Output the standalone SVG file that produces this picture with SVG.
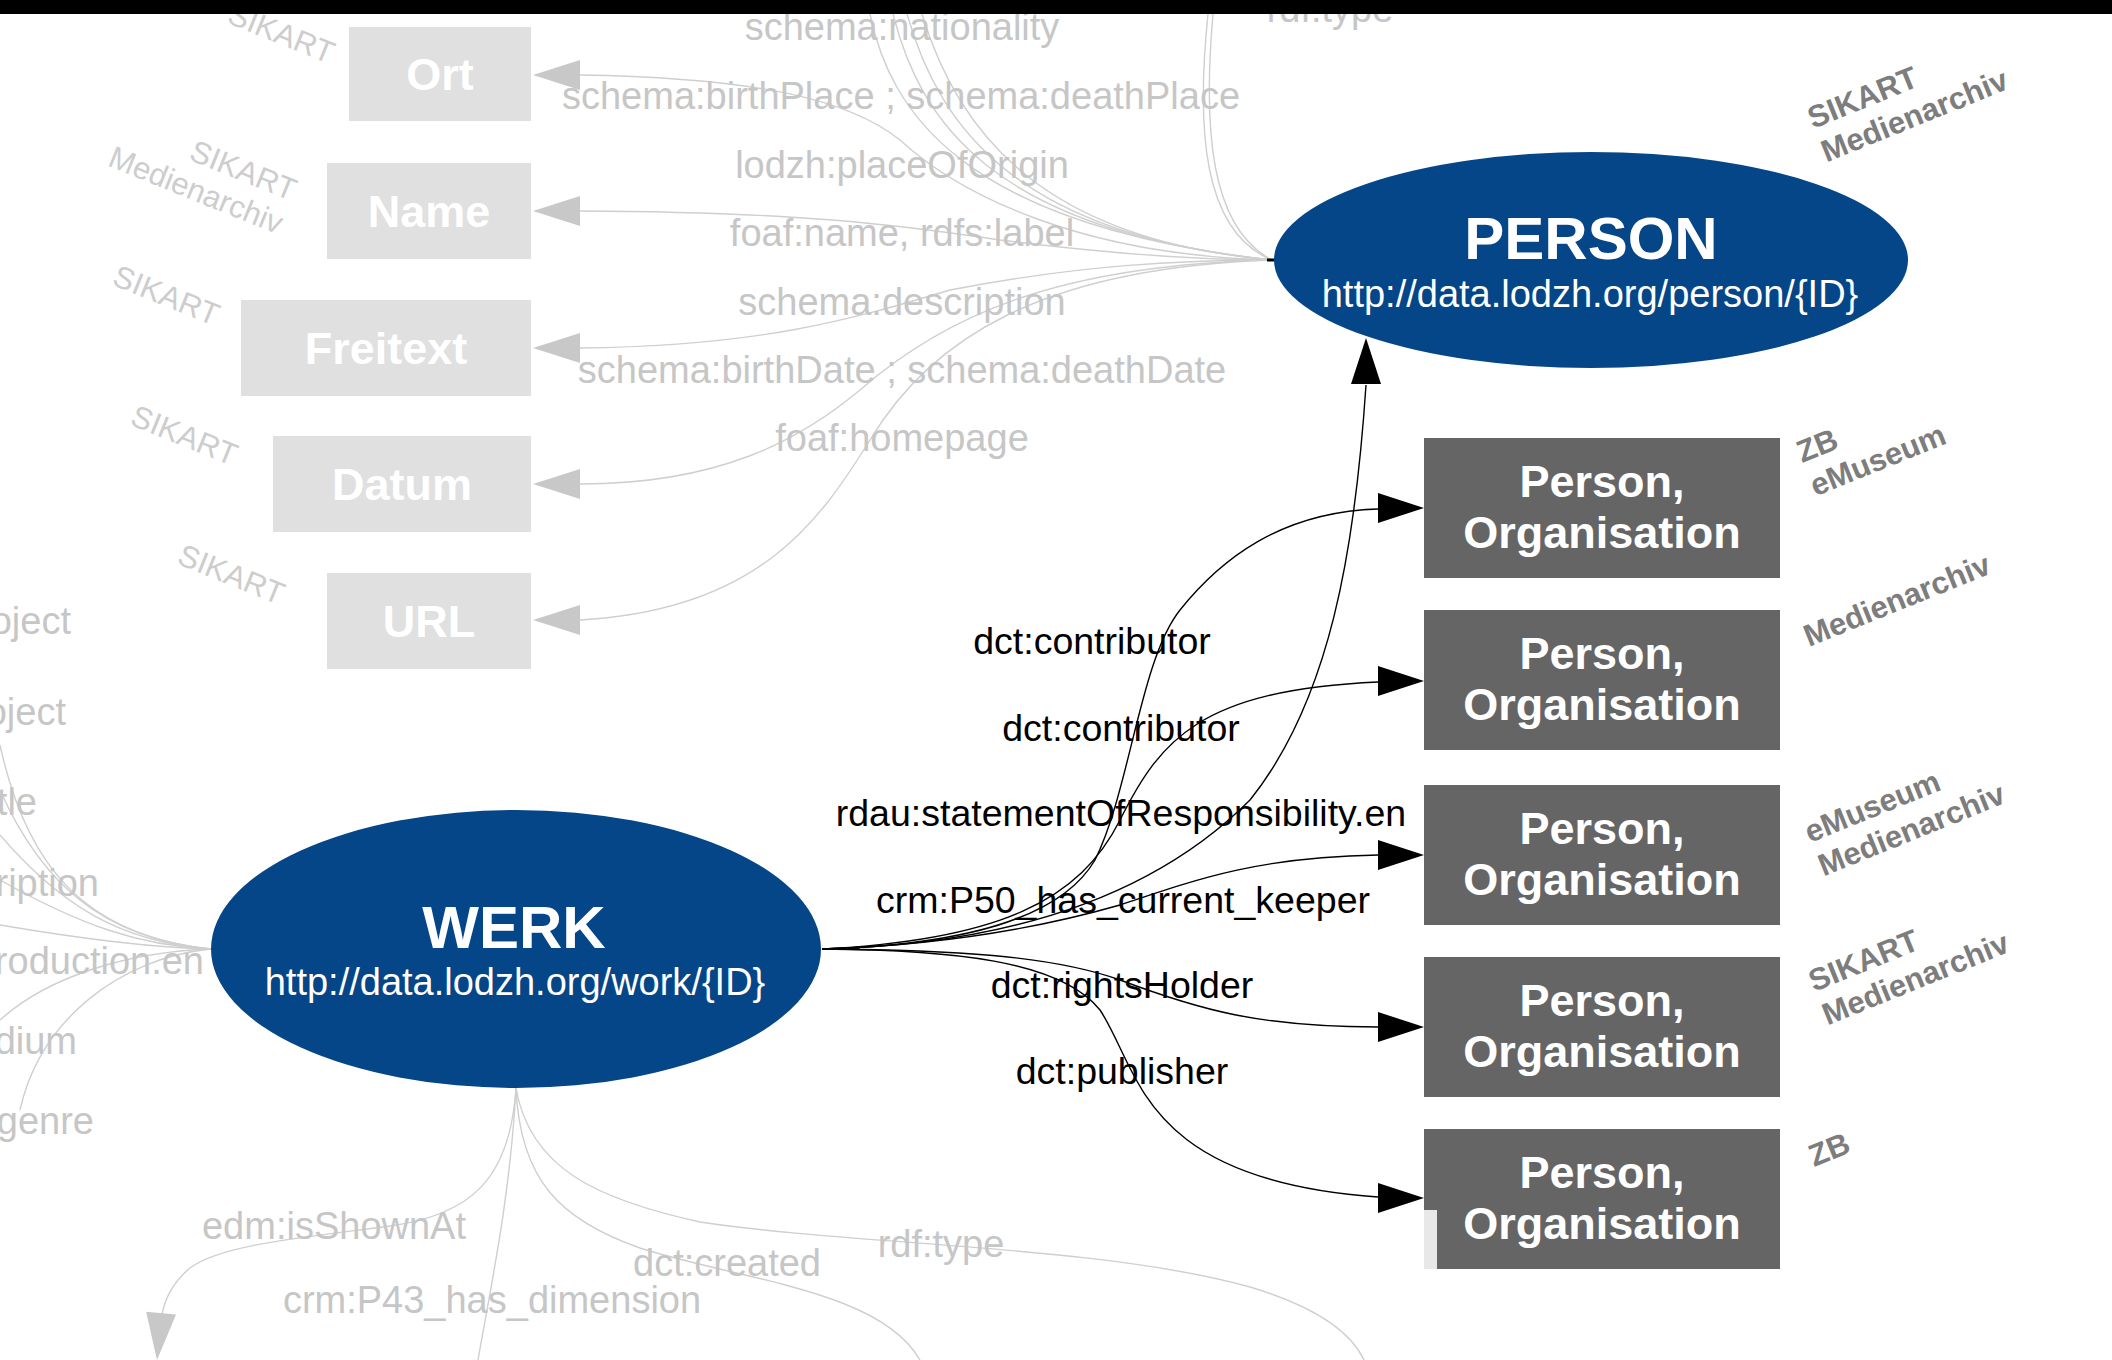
<svg xmlns="http://www.w3.org/2000/svg" xmlns:xlink="http://www.w3.org/1999/xlink" width="2112" height="1360" viewBox="0 0 2112 1360">
<style>
text{font-family:"Liberation Sans",Arial,Helvetica,sans-serif}
.fe{fill:none;stroke:#cfcfcf;stroke-width:1.4}
.be{fill:none;stroke:#000;stroke-width:1.4}
.fl{font-size:38px;fill:#c6c6c6;text-anchor:middle}
.bl{font-size:37.5px;fill:#000;text-anchor:middle}
.fbox{fill:#e0e0e0}
.dbox{fill:#656565}
.bt{font-size:45px;font-weight:bold;fill:#fff;text-anchor:middle}
.ell{fill:#044687}
.title{font-size:60px;font-weight:bold;fill:#fff;text-anchor:middle}
.uri{font-size:38px;fill:#fff;text-anchor:middle}
.tag{font-size:31px;font-weight:bold;fill:#7d7d7d}
.tagf{font-size:31px;fill:#cdcdcd;text-anchor:end}
</style>
<defs>
<path id="ahb" d="M0,0 L-46,-15 L-46,15 Z" fill="#000"/>
<path id="ahg" d="M0,0 L-47,-15 L-47,15 Z" fill="#c8c8c8"/>
</defs>
<rect width="2112" height="1360" fill="#fff"/>

<g id="edges">
<!-- faded edges around PERSON -->
<path class="fe" d="M580,75 C760,78 850,100 900,140 C960,195 1080,255 1272,260"/>
<path class="fe" d="M580,211 C800,212 900,225 1000,240 C1120,255 1200,260 1272,260"/>
<path class="fe" d="M580,348 C760,346 850,320 950,290 C1080,265 1180,260 1272,260"/>
<path class="fe" d="M580,484 C720,484 800,440 860,390 C940,320 1050,265 1272,260"/>
<path class="fe" d="M580,620 C760,610 820,520 870,440 C930,340 1040,268 1272,260"/>
<path class="fe" d="M870,14 C890,110 960,225 1272,260"/>
<path class="fe" d="M893,14 C920,120 990,230 1272,260"/>
<path class="fe" d="M907,14 C940,130 1020,235 1272,260"/>
<path class="fe" d="M922,14 C960,140 1050,240 1272,260"/>
<path class="fe" d="M1208,14 C1196,130 1203,232 1272,260"/>
<path class="fe" d="M1213,14 C1203,128 1210,228 1272,260"/>
<use href="#ahg" transform="translate(533,75) rotate(180)"/>
<use href="#ahg" transform="translate(533,211) rotate(180)"/>
<use href="#ahg" transform="translate(533,348) rotate(180)"/>
<use href="#ahg" transform="translate(533,484) rotate(180)"/>
<use href="#ahg" transform="translate(533,620) rotate(180)"/>
<path d="M1267,260 H1275" stroke="#000" stroke-width="3"/>
<!-- faded edges left of WERK -->
<path class="fe" d="M0,745 C25,860 80,935 211,949"/>
<path class="fe" d="M0,790 C40,880 100,938 211,949"/>
<path class="fe" d="M0,835 C60,905 120,942 211,949"/>
<path class="fe" d="M0,880 C80,925 140,946 211,949"/>
<path class="fe" d="M0,925 C100,942 160,948 211,949"/>
<path class="fe" d="M0,1020 C50,975 130,952 211,949"/>
<path class="fe" d="M20,1110 C40,1020 120,958 211,949"/>
<!-- faded edges below WERK -->
<path class="fe" d="M516,1088 C510,1180 470,1215 390,1226 C300,1238 220,1245 190,1268 C172,1283 163,1300 161,1322"/>
<use href="#ahg" transform="translate(157,1360) rotate(95)"/>
<path class="fe" d="M516,1088 C510,1200 490,1290 478,1360"/>
<path class="fe" d="M516,1088 C520,1180 560,1220 640,1248 C740,1280 880,1290 920,1360"/>
<path class="fe" d="M516,1088 C530,1170 600,1200 700,1222 C850,1245 1100,1245 1250,1287 C1310,1305 1350,1330 1364,1360"/>
<!-- black edges from WERK -->
<path class="be" d="M822,949 H860"/>
<path class="be" d="M822,949 C960,945 1060,920 1095,860 C1130,790 1140,660 1180,610 C1220,560 1280,512 1378,509"/>
<path class="be" d="M822,949 C1000,940 1080,900 1120,820 C1160,740 1200,690 1378,682"/>
<path class="be" d="M822,949 C1000,945 1150,900 1250,800 C1330,700 1355,550 1366,385"/>
<path class="be" d="M822,949 C950,945 1050,925 1120,905 C1200,878 1260,857 1378,855"/>
<path class="be" d="M822,949 C950,950 1050,955 1120,980 C1200,1010 1260,1027 1378,1027"/>
<path class="be" d="M822,949 C950,950 1060,960 1100,1010 C1140,1070 1140,1180 1378,1197"/>
<use href="#ahb" transform="translate(1424,508)"/>
<use href="#ahb" transform="translate(1424,681)"/>
<use href="#ahb" transform="translate(1424,855)"/>
<use href="#ahb" transform="translate(1424,1027)"/>
<use href="#ahb" transform="translate(1424,1198)"/>
<use href="#ahb" transform="translate(1366,338) rotate(-90)"/>
</g>

<g id="edge-labels">
<text class="fl" x="902" y="40">schema:nationality</text>
<text class="fl" x="901" y="109">schema:birthPlace ; schema:deathPlace</text>
<text class="fl" x="902" y="178">lodzh:placeOfOrigin</text>
<text class="fl" x="902" y="246">foaf:name, rdfs:label</text>
<text class="fl" x="902" y="315">schema:description</text>
<text class="fl" x="902" y="383">schema:birthDate ; schema:deathDate</text>
<text class="fl" x="902" y="451">foaf:homepage</text>
<text class="fl" x="1330" y="22">rdf:type</text>
<text class="fl" x="71" y="634" text-anchor="end" style="text-anchor:end">oject</text>
<text class="fl" x="66" y="725" style="text-anchor:end">oject</text>
<text class="fl" x="37" y="815" style="text-anchor:end">tle</text>
<text class="fl" x="99" y="896" style="text-anchor:end">ription</text>
<text class="fl" x="204" y="974" style="text-anchor:end">roduction.en</text>
<text class="fl" x="77" y="1054" style="text-anchor:end">dium</text>
<text class="fl" x="94" y="1134" style="text-anchor:end">genre</text>
<text class="fl" x="334" y="1239">edm:isShownAt</text>
<text class="fl" x="492" y="1313">crm:P43_has_dimension</text>
<text class="fl" x="727" y="1276">dct:created</text>
<text class="fl" x="941" y="1257">rdf:type</text>
<text class="bl" x="1092" y="654">dct:contributor</text>
<text class="bl" x="1121" y="741">dct:contributor</text>
<text class="bl" x="1121" y="826">rdau:statementOfResponsibility.en</text>
<text class="bl" x="1123" y="913">crm:P50_has_current_keeper</text>
<text class="bl" x="1122" y="998">dct:rightsHolder</text>
<text class="bl" x="1122" y="1084">dct:publisher</text>
</g>

<g id="node-ort"><rect class="fbox" x="349" y="27" width="182" height="94"/><text class="bt" x="440" y="90">Ort</text></g>
<g id="node-name"><rect class="fbox" x="327" y="163" width="204" height="96"/><text class="bt" x="429" y="227">Name</text></g>
<g id="node-freitext"><rect class="fbox" x="241" y="300" width="290" height="96"/><text class="bt" x="386" y="364">Freitext</text></g>
<g id="node-datum"><rect class="fbox" x="273" y="436" width="258" height="96"/><text class="bt" x="402" y="500">Datum</text></g>
<g id="node-url"><rect class="fbox" x="327" y="573" width="204" height="96"/><text class="bt" x="429" y="637">URL</text></g>

<g id="tags-faded">
<g transform="translate(329,64) rotate(22)"><text class="tagf">SIKART</text></g>
<g transform="translate(291,201) rotate(22)"><text class="tagf">SIKART</text><text class="tagf" y="36">Medienarchiv</text></g>
<g transform="translate(214,326) rotate(22)"><text class="tagf">SIKART</text></g>
<g transform="translate(232,466) rotate(22)"><text class="tagf">SIKART</text></g>
<g transform="translate(279,605) rotate(22)"><text class="tagf">SIKART</text></g>
</g>

<g id="node-person"><ellipse class="ell" cx="1591" cy="260" rx="317" ry="108"/><text class="title" x="1591" y="259">PERSON</text><text class="uri" x="1590" y="307">http://data.lodzh.org/person/{ID}</text></g>
<g id="node-werk"><ellipse class="ell" cx="516" cy="949" rx="305" ry="139"/><text class="title" x="514" y="948">WERK</text><text class="uri" x="515" y="995">http://data.lodzh.org/work/{ID}</text></g>

<g id="node-po1"><rect class="dbox" x="1424" y="438" width="356" height="140"/><text class="bt" x="1602" y="497">Person,</text><text class="bt" x="1602" y="548">Organisation</text></g>
<g id="node-po2"><rect class="dbox" x="1424" y="610" width="356" height="140"/><text class="bt" x="1602" y="669">Person,</text><text class="bt" x="1602" y="720">Organisation</text></g>
<g id="node-po3"><rect class="dbox" x="1424" y="785" width="356" height="140"/><text class="bt" x="1602" y="844">Person,</text><text class="bt" x="1602" y="895">Organisation</text></g>
<g id="node-po4"><rect class="dbox" x="1424" y="957" width="356" height="140"/><text class="bt" x="1602" y="1016">Person,</text><text class="bt" x="1602" y="1067">Organisation</text></g>
<g id="node-po5"><rect class="dbox" x="1424" y="1129" width="356" height="140"/><rect x="1424" y="1210" width="13" height="59" fill="#e8e8e8"/><text class="bt" x="1602" y="1188">Person,</text><text class="bt" x="1602" y="1239">Organisation</text></g>

<g id="tags">
<g transform="translate(1813,129) rotate(-22)"><text class="tag">SIKART</text><text class="tag" y="36">Medienarchiv</text></g>
<g transform="translate(1802,463) rotate(-22)"><text class="tag">ZB</text><text class="tag" y="36">eMuseum</text></g>
<g transform="translate(1809,647) rotate(-22)"><text class="tag">Medienarchiv</text></g>
<g transform="translate(1810,843) rotate(-22)"><text class="tag">eMuseum</text><text class="tag" y="36">Medienarchiv</text></g>
<g transform="translate(1814,992) rotate(-22)"><text class="tag">SIKART</text><text class="tag" y="36">Medienarchiv</text></g>
<g transform="translate(1814,1167) rotate(-22)"><text class="tag">ZB</text></g>
</g>

<rect id="top-bar" x="0" y="0" width="2112" height="14" fill="#000"/>
</svg>
